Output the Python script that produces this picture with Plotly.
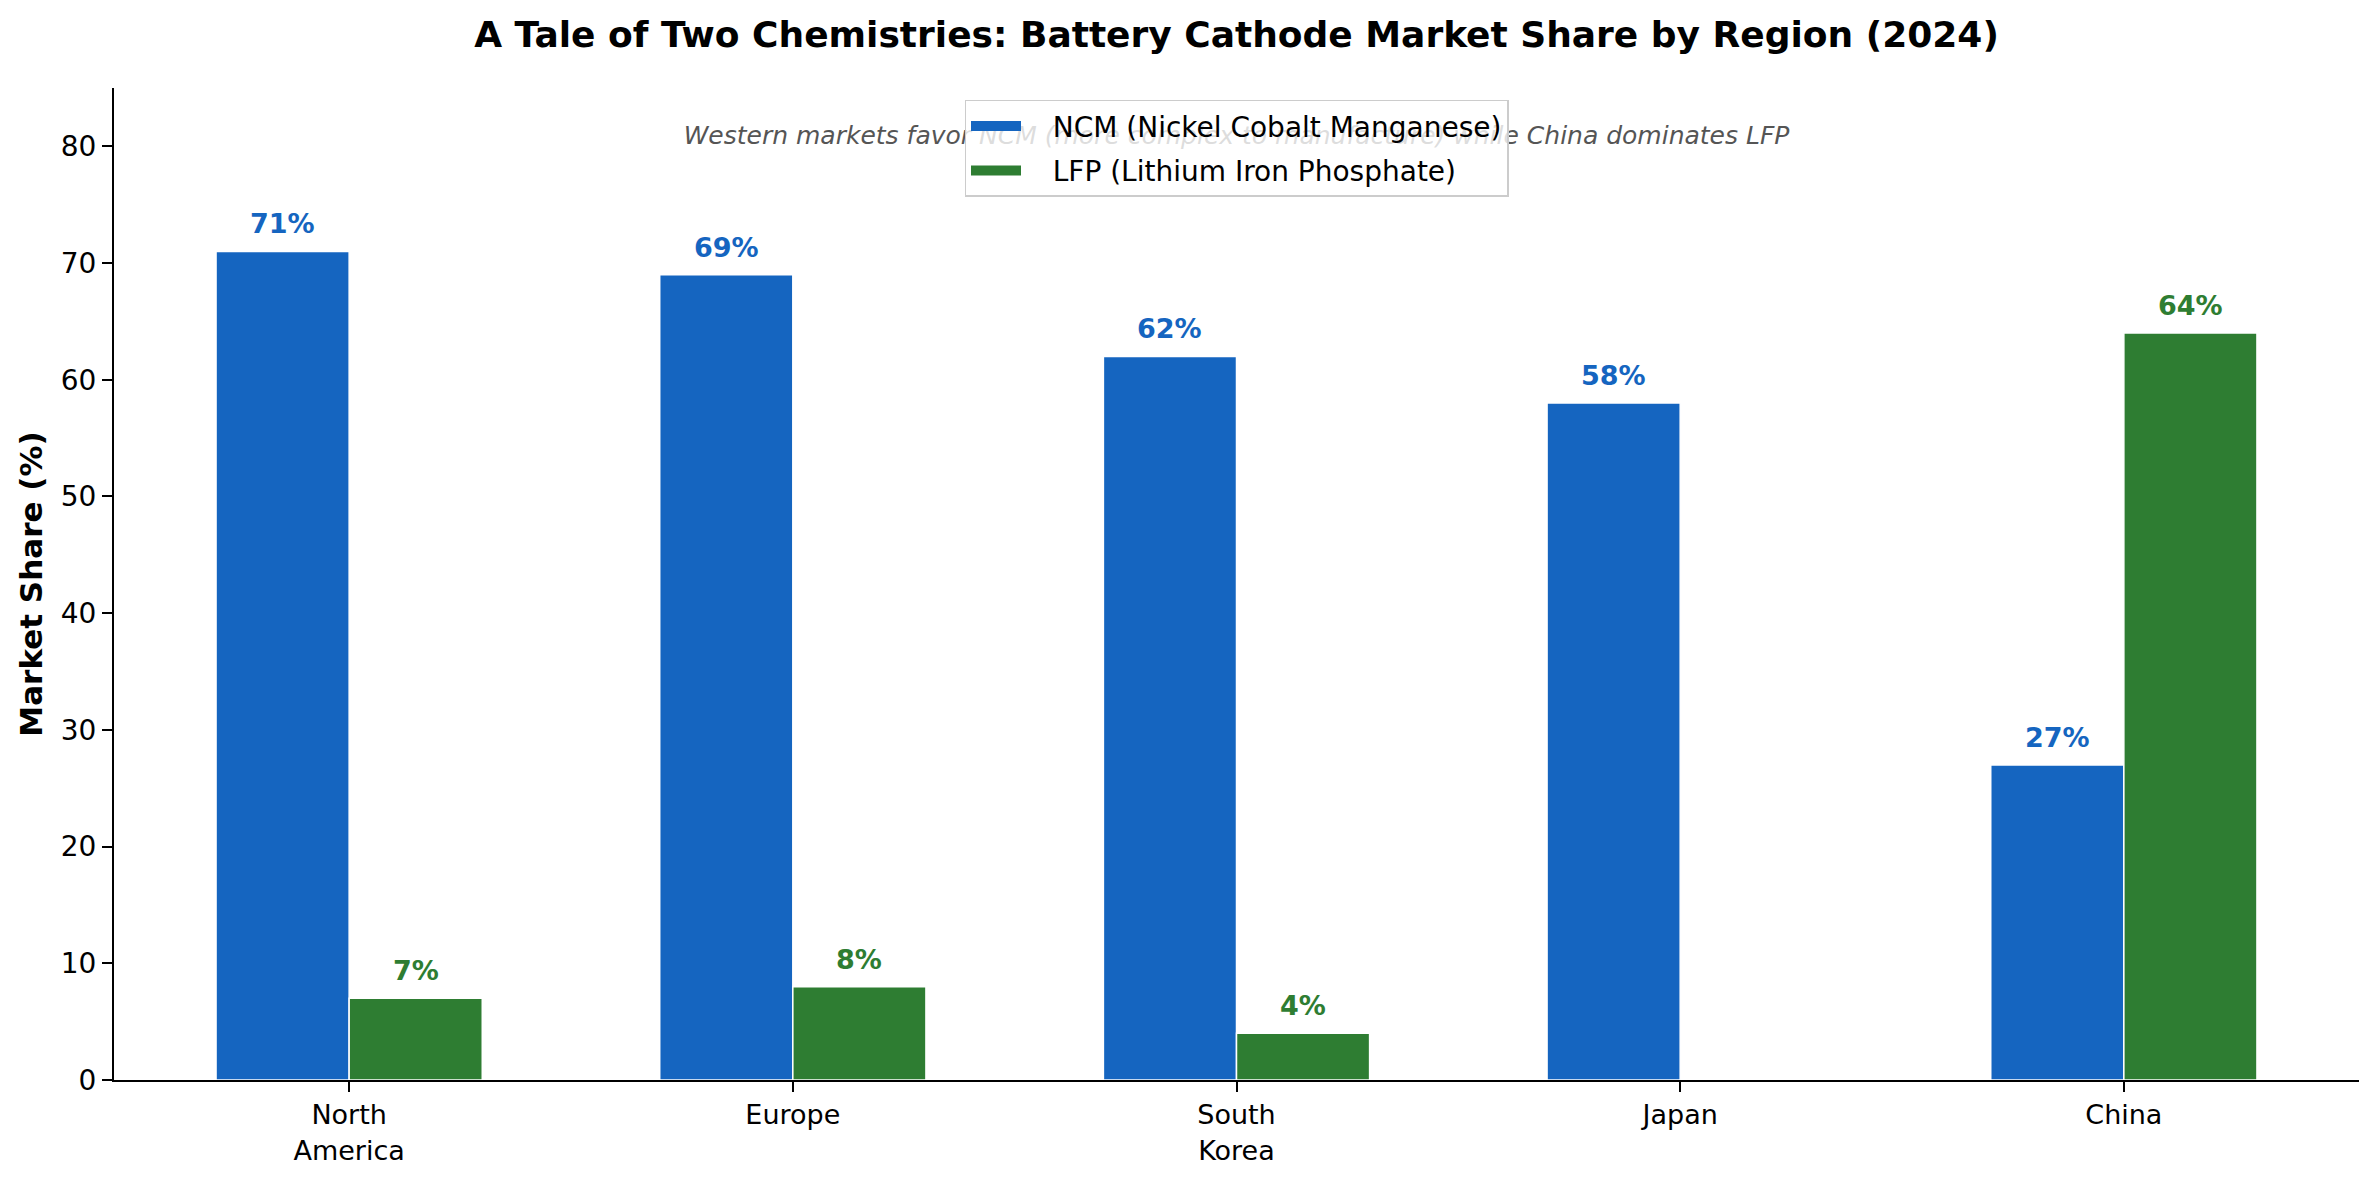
import numpy as np
import plotly.graph_objects as go

regions = ["North<br>America", "Europe", "South<br>Korea", "Japan", "China"]
ncm = [71, 69, 62, 58, 27]
lfp = [7, 8, 4, None, 64]
ncm_name = "NCM (Nickel Cobalt Manganese)"
lfp_name = "LFP (Lithium Iron Phosphate)"
subtitle = "Western markets favor NCM (more complex to manufacture) while China dominates LFP"
ncm_color = "#1565C0"
lfp_color = "#2E7D32"

pos = np.arange(len(regions))
w = 0.3
FONT = "DejaVu Sans"
y_max = 85
W, H = 2371, 1172  # page body adds an 8px offset
GAP = "\u00a0" * 3

fig = go.Figure()
# subtitle drawn as a text trace so that the legend sits above it
fig.add_trace(go.Scatter(x=[(pos[0] + pos[-1]) / 2], y=[0.95 * y_max], mode="text",
                         text=[f"<i>{subtitle}</i>"], textposition="middle center",
                         textfont=dict(family=FONT, size=25, color="#555555"),
                         showlegend=False, hoverinfo="skip"))
fig.add_trace(go.Bar(x=pos - w / 2, y=ncm, width=w, name=ncm_name, showlegend=False,
                     marker=dict(color=ncm_color, line=dict(color="white", width=1.5))))
fig.add_trace(go.Bar(x=pos + w / 2, y=lfp, width=w, name=lfp_name, showlegend=False,
                     marker=dict(color=lfp_color, line=dict(color="white", width=1.5))))
# legend entries (wide rectangular patches)
for nm, col, grp in [(ncm_name, ncm_color, "a"), (lfp_name, lfp_color, "b")]:
    fig.add_trace(go.Scatter(x=[None], y=[None], mode="lines", name=GAP + nm, legendgroup=grp,
                             line=dict(color=col, width=17), hoverinfo="skip"))

for xs, vals, col in [(pos - w / 2, ncm, ncm_color), (pos + w / 2, lfp, lfp_color)]:
    for xv, v in zip(xs, vals):
        if v is None or v == 0:
            continue
        fig.add_annotation(x=xv, y=v, text=f"<b>{v}%</b>", showarrow=False,
                           yanchor="bottom", yshift=10,
                           font=dict(family=FONT, size=27, color=col))

fig.update_layout(
    width=W, height=H,
    margin=dict(l=106, r=20, t=80, b=100),
    paper_bgcolor="white", plot_bgcolor="white",
    barmode="overlay",
    font=dict(family=FONT, size=28, color="black"),
    title=dict(text="<b>A Tale of Two Chemistries: Battery Cathode Market Share by Region (2024)</b>",
               x=0.5, xref="paper", xanchor="center", y=1 - 26 / H, yanchor="middle", yref="container",
               font=dict(family=FONT, size=36, color="black")),
    legend=dict(x=0.5, xanchor="center", y=0.988, yanchor="top",
                bgcolor="rgba(255,255,255,0.8)", bordercolor="#cccccc", borderwidth=1.5,
                font=dict(family=FONT, size=28, color="black"),
                traceorder="grouped", tracegroupgap=5, itemwidth=50),
    showlegend=True,
)
fig.update_xaxes(range=[-0.53, 4.53], tickvals=pos, ticktext=regions,
                 showline=True, linecolor="black", linewidth=2,
                 ticks="outside", ticklen=10, tickwidth=1.5, tickcolor="black",
                 showgrid=False, zeroline=False, automargin=False,
                 tickfont=dict(family=FONT, size=27, color="black"))
fig.update_yaxes(range=[0, y_max], tickvals=list(range(0, 81, 10)),
                 showline=True, linecolor="black", linewidth=2,
                 ticks="outside", ticklen=10, tickwidth=1.5, tickcolor="black",
                 showgrid=False, zeroline=False, automargin=False,
                 title=dict(text="<b>Market Share (%)</b>", standoff=9,
                            font=dict(family=FONT, size=31, color="black")),
                 tickfont=dict(family=FONT, size=28, color="black"))

fig.write_html("out.html")
